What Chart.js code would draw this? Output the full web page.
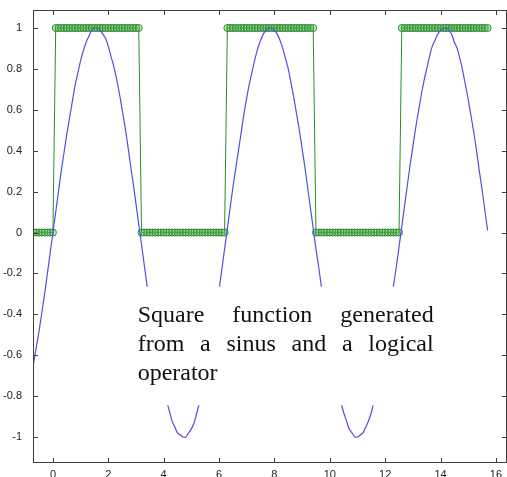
<!DOCTYPE html>
<html>
<head>
<meta charset="utf-8">
<script src="https://cdn.jsdelivr.net/npm/chart.js@4/dist/chart.umd.min.js"></script>
<style>
  html, body { margin: 0; padding: 0; background: #fff; overflow: hidden; }
  canvas { display: block; }
</style>
</head>
<body>
<canvas id="chartSquare" width="507" height="477"></canvas>
<script>
// x positions (step 0.1)
const xValues = [
  -0.7, -0.6, -0.5, -0.4, -0.3, -0.2, -0.1,
  0.0, 0.1, 0.2, 0.3, 0.4, 0.5, 0.6, 0.7, 0.8, 0.9,
  1.0, 1.1, 1.2, 1.3, 1.4, 1.5, 1.6, 1.7, 1.8, 1.9,
  2.0, 2.1, 2.2, 2.3, 2.4, 2.5, 2.6, 2.7, 2.8, 2.9,
  3.0, 3.1, 3.2, 3.3, 3.4, 3.5, 3.6, 3.7, 3.8, 3.9,
  4.0, 4.1, 4.2, 4.3, 4.4, 4.5, 4.6, 4.7, 4.8, 4.9,
  5.0, 5.1, 5.2, 5.3, 5.4, 5.5, 5.6, 5.7, 5.8, 5.9,
  6.0, 6.1, 6.2, 6.3, 6.4, 6.5, 6.6, 6.7, 6.8, 6.9,
  7.0, 7.1, 7.2, 7.3, 7.4, 7.5, 7.6, 7.7, 7.8, 7.9,
  8.0, 8.1, 8.2, 8.3, 8.4, 8.5, 8.6, 8.7, 8.8, 8.9,
  9.0, 9.1, 9.2, 9.3, 9.4, 9.5, 9.6, 9.7, 9.8, 9.9,
  10.0, 10.1, 10.2, 10.3, 10.4, 10.5, 10.6, 10.7, 10.8, 10.9,
  11.0, 11.1, 11.2, 11.3, 11.4, 11.5, 11.6, 11.7, 11.8, 11.9,
  12.0, 12.1, 12.2, 12.3, 12.4, 12.5, 12.6, 12.7, 12.8, 12.9,
  13.0, 13.1, 13.2, 13.3, 13.4, 13.5, 13.6, 13.7, 13.8, 13.9,
  14.0, 14.1, 14.2, 14.3, 14.4, 14.5, 14.6, 14.7, 14.8, 14.9,
  15.0, 15.1, 15.2, 15.3, 15.4, 15.5, 15.6, 15.7
];

// blue curve (sinus)
const sinusValues = [
  -0.64, -0.56, -0.48, -0.39, -0.30, -0.20, -0.10,
  0.00, 0.10, 0.20, 0.30, 0.39, 0.48, 0.56, 0.64, 0.72, 0.78,
  0.84, 0.89, 0.93, 0.96, 0.99, 1.00, 1.00, 0.99, 0.97, 0.95,
  0.91, 0.86, 0.81, 0.75, 0.68, 0.60, 0.52, 0.43, 0.33, 0.24,
  0.14, 0.04, -0.06, -0.16, -0.26, -0.35, -0.44, -0.53, -0.61, -0.69,
  -0.76, -0.82, -0.87, -0.92, -0.95, -0.98, -0.99, -1.00, -1.00, -0.98,
  -0.96, -0.93, -0.88, -0.83, -0.77, -0.71, -0.63, -0.55, -0.46, -0.37,
  -0.28, -0.18, -0.08, 0.02, 0.12, 0.22, 0.31, 0.40, 0.49, 0.58,
  0.66, 0.73, 0.79, 0.85, 0.90, 0.94, 0.97, 0.99, 1.00, 1.00,
  0.99, 0.97, 0.94, 0.90, 0.85, 0.80, 0.73, 0.66, 0.58, 0.50,
  0.41, 0.32, 0.22, 0.12, 0.02, -0.08, -0.17, -0.27, -0.37, -0.46,
  -0.54, -0.63, -0.70, -0.77, -0.83, -0.88, -0.92, -0.96, -0.98, -1.00,
  -1.00, -0.99, -0.98, -0.95, -0.92, -0.88, -0.82, -0.76, -0.69, -0.62,
  -0.54, -0.45, -0.36, -0.26, -0.17, -0.07, 0.03, 0.13, 0.23, 0.33,
  0.42, 0.51, 0.59, 0.67, 0.74, 0.80, 0.86, 0.91, 0.94, 0.97,
  0.99, 1.00, 1.00, 0.99, 0.97, 0.93, 0.90, 0.85, 0.79, 0.72,
  0.65, 0.57, 0.49, 0.40, 0.30, 0.21, 0.11, 0.01
];

// green square (logical operator)
const squareValues = [
  0, 0, 0, 0, 0, 0, 0,
  0, 1, 1, 1, 1, 1, 1, 1, 1, 1,
  1, 1, 1, 1, 1, 1, 1, 1, 1, 1,
  1, 1, 1, 1, 1, 1, 1, 1, 1, 1,
  1, 1, 0, 0, 0, 0, 0, 0, 0, 0,
  0, 0, 0, 0, 0, 0, 0, 0, 0, 0,
  0, 0, 0, 0, 0, 0, 0, 0, 0, 0,
  0, 0, 0, 1, 1, 1, 1, 1, 1, 1,
  1, 1, 1, 1, 1, 1, 1, 1, 1, 1,
  1, 1, 1, 1, 1, 1, 1, 1, 1, 1,
  1, 1, 1, 1, 1, 0, 0, 0, 0, 0,
  0, 0, 0, 0, 0, 0, 0, 0, 0, 0,
  0, 0, 0, 0, 0, 0, 0, 0, 0, 0,
  0, 0, 0, 0, 0, 0, 1, 1, 1, 1,
  1, 1, 1, 1, 1, 1, 1, 1, 1, 1,
  1, 1, 1, 1, 1, 1, 1, 1, 1, 1,
  1, 1, 1, 1, 1, 1, 1, 1
];

const xTicks = [0, 2, 4, 6, 8, 10, 12, 14, 16];
const yTicks = [-1, -0.8, -0.6, -0.4, -0.2, 0, 0.2, 0.4, 0.6, 0.8, 1];

const noteLines = [
  "Square function generated",
  "from a sinus and a logical",
  "operator"
];

const tickFont = '11px "Liberation Sans", Arial, sans-serif';

// box + inward ticks + x labels, matlab style
const axesBox = {
  id: "axesBox",
  afterDraw(chart) {
    const { ctx, chartArea: a, scales } = chart;
    ctx.save();
    ctx.strokeStyle = "#3c3c3c";
    ctx.lineWidth = 1;
    ctx.strokeRect(a.left + 0.5, a.top + 0.5, a.right - a.left - 1, a.bottom - a.top - 1);
    ctx.beginPath();
    xTicks.forEach(v => {
      const px = Math.round(scales.x.getPixelForValue(v)) + 0.5;
      ctx.moveTo(px, a.bottom); ctx.lineTo(px, a.bottom - 5);
      ctx.moveTo(px, a.top); ctx.lineTo(px, a.top + 5);
    });
    yTicks.forEach(v => {
      const py = Math.round(scales.y.getPixelForValue(v)) + 0.5;
      ctx.moveTo(a.left, py); ctx.lineTo(a.left + 5, py);
      ctx.moveTo(a.right, py); ctx.lineTo(a.right - 5, py);
    });
    ctx.stroke();

    ctx.fillStyle = "#222";
    ctx.font = tickFont;
    ctx.textAlign = "center";
    ctx.textBaseline = "top";
    xTicks.forEach(v => {
      ctx.fillText(String(v), scales.x.getPixelForValue(v), a.bottom + 6);
    });
    ctx.restore();
  }
};

// white text box over the curve
const noteBox = {
  id: "noteBox",
  afterDatasetsDraw(chart) {
    const { ctx, scales: { x, y } } = chart;
    const bx0 = x.getPixelForValue(2.7), bx1 = x.getPixelForValue(14.1);
    const by0 = y.getPixelForValue(-0.265), by1 = y.getPixelForValue(-0.845);
    ctx.save();
    ctx.fillStyle = "#fff";
    ctx.fillRect(bx0, by0, bx1 - bx0, by1 - by0);

    const left = x.getPixelForValue(3.06), right = x.getPixelForValue(13.75);
    const base = [-0.438, -0.58, -0.72].map(v => y.getPixelForValue(v));
    ctx.font = '24px "Liberation Serif", "Times New Roman", serif';
    ctx.fillStyle = "#111";
    ctx.textBaseline = "alphabetic";
    noteLines.forEach((line, i) => {
      const words = line.split(" ");
      if (i === noteLines.length - 1 || words.length < 2) {
        ctx.fillText(line, left, base[i]);
        return;
      }
      const wsum = words.reduce((s, w) => s + ctx.measureText(w).width, 0);
      const gap = (right - left - wsum) / (words.length - 1);
      let cx = left;
      words.forEach(w => {
        ctx.fillText(w, cx, base[i]);
        cx += ctx.measureText(w).width + gap;
      });
    });
    ctx.restore();
  }
};

const ctx = document.getElementById("chartSquare");

new Chart(ctx, {
  type: "scatter",
  data: {
    datasets: [
      {
        label: "sinus",
        data: xValues.map((v, i) => ({ x: v, y: sinusValues[i] })),
        showLine: true,
        borderColor: "rgb(80,80,225)",
        borderWidth: 1.2,
        pointRadius: 0,
        tension: 0.3
      },
      {
        label: "square",
        data: xValues.map((v, i) => ({ x: v, y: squareValues[i] })),
        showLine: true,
        borderColor: "rgb(40,140,40)",
        borderWidth: 1,
        pointRadius: 3.5,
        pointBorderWidth: 1,
        pointBorderColor: "rgb(40,140,40)",
        pointBackgroundColor: "rgba(110,190,110,0.35)",
        tension: 0
      }
    ]
  },
  options: {
    responsive: false,
    animation: false,
    layout: { autoPadding: false, padding: { top: 10, right: 0, left: 0, bottom: 0 } },
    plugins: {
      legend: { display: false },
      tooltip: { enabled: false }
    },
    scales: {
      x: {
        type: "linear",
        min: -0.72,
        max: 16.4,
        grid: { display: false },
        border: { display: false },
        afterBuildTicks: s => { s.ticks = xTicks.map(v => ({ value: v })); },
        afterFit: s => { s.height = 14; },
        ticks: { display: false }
      },
      y: {
        min: -1.127,
        max: 1.088,
        grid: { display: false },
        border: { display: false },
        afterBuildTicks: s => { s.ticks = yTicks.map(v => ({ value: v })); },
        afterFit: s => { s.width = 33; },
        ticks: {
          padding: 3,
          autoSkip: false,
          color: "#222",
          font: { family: "Liberation Sans, Arial, sans-serif", size: 11 },
          callback: v => String(v)
        }
      }
    }
  },
  plugins: [noteBox, axesBox]
});
</script>
</body>
</html>
